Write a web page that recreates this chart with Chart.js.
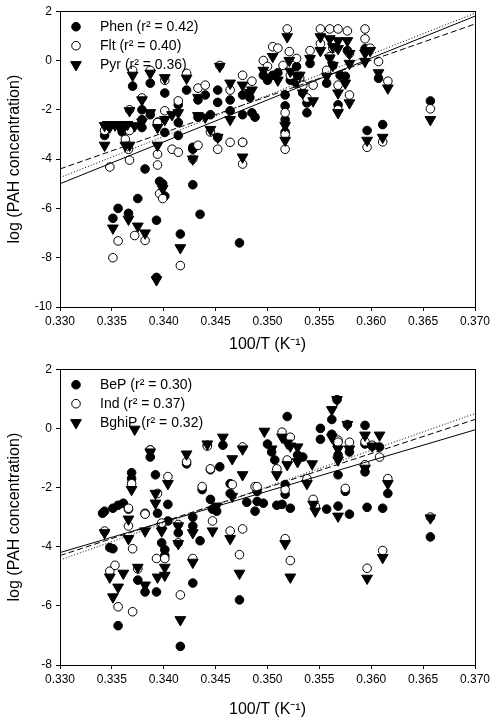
<!DOCTYPE html>
<html>
<head>
<meta charset="utf-8">
<script src="https://cdn.jsdelivr.net/npm/chart.js@4.4.0/dist/chart.umd.min.js"></script>
<style>
  body { margin: 0; background: #fff; }
  .wrap { position: absolute; left: 0; width: 501px; }
</style>
</head>
<body>
<div class="wrap" style="top:0;height:358px"><canvas id="top" width="501" height="358"></canvas></div>
<div class="wrap" style="top:358px;height:370px"><canvas id="bottom" width="501" height="370"></canvas></div>
<script>
// values: [100/T, log concentration]
const phen = [[0.3343,-3.04],[0.3351,-6.4],[0.3356,-6.0],[0.3360,-2.9],[0.3363,-2.7],[0.3366,-6.2],[0.3370,-1.04],[0.3375,-5.6],[0.3379,-2.0],[0.3379,-2.4],[0.3379,-2.72],[0.3382,-4.4],[0.3387,-0.92],[0.3387,-2.2],[0.3393,-6.48],[0.3393,-8.8],[0.3394,-2.5],[0.3396,-4.9],[0.3399,-5.0],[0.3401,-1.32],[0.3401,-2.92],[0.3401,-5.5],[0.3414,-1.8],[0.3414,-2.52],[0.3414,-3.04],[0.3416,-7.04],[0.3422,-1.2],[0.3428,-3.6],[0.3428,-5.04],[0.3428,-3.52],[0.3433,-1.6],[0.3433,-2.3],[0.3435,-6.24],[0.3440,-1.4],[0.3445,-2.2],[0.3452,-1.2],[0.3452,-1.7],[0.3452,-3.12],[0.3464,-1.6],[0.3464,-2.04],[0.3473,-7.4],[0.3476,-1.4],[0.3476,-2.2],[0.3476,-3.32],[0.3483,-1.5],[0.3485,-2.12],[0.3488,-2.3],[0.3496,-0.6],[0.3500,-0.8],[0.3505,-0.6],[0.3510,-0.5],[0.3517,-1.4],[0.3517,-1.84],[0.3517,-2.4],[0.3517,-2.9],[0.3522,-0.8],[0.3528,-0.24],[0.3528,-0.92],[0.3531,-0.8],[0.3534,-1.32],[0.3538,-1.72],[0.3538,-2.12],[0.3541,-0.12],[0.3557,-0.92],[0.3563,-0.2],[0.3568,-1.8],[0.3570,-0.6],[0.3577,0.4],[0.3575,-0.64],[0.3596,-2.84],[0.3594,0.48],[0.3607,-0.72],[0.3611,-2.6],[0.3657,-1.64]];
const flt = [[0.3343,-2.84],[0.3348,-4.32],[0.3351,-8.0],[0.3356,-7.32],[0.3360,-2.8],[0.3363,-3.2],[0.3366,-3.6],[0.3367,-2.0],[0.3367,-2.84],[0.3367,-4.04],[0.3370,-0.4],[0.3372,-7.1],[0.3379,-1.52],[0.3382,-7.3],[0.3387,-0.4],[0.3394,-2.52],[0.3394,-3.8],[0.3394,-4.24],[0.3396,-5.4],[0.3399,-5.6],[0.3401,-0.8],[0.3401,-2.04],[0.3408,-3.6],[0.3414,-1.64],[0.3414,-3.72],[0.3416,-8.32],[0.3422,-0.52],[0.3428,-4.0],[0.3433,-1.12],[0.3433,-3.44],[0.3440,-1.0],[0.3445,-2.9],[0.3454,-0.2],[0.3452,-3.6],[0.3464,-1.2],[0.3464,-3.32],[0.3476,-0.6],[0.3476,-3.32],[0.3476,-4.2],[0.3485,-0.84],[0.3496,0.0],[0.3500,-0.24],[0.3505,0.56],[0.3510,0.5],[0.3515,-0.2],[0.3517,-2.12],[0.3517,-3.0],[0.3517,-3.6],[0.3519,1.28],[0.3521,0.36],[0.3522,-0.6],[0.3528,0.08],[0.3531,-0.7],[0.3534,-1.0],[0.3538,-1.52],[0.3541,0.4],[0.3544,-1.0],[0.3551,1.28],[0.3551,0.68],[0.3557,-0.4],[0.3560,1.28],[0.3560,0.16],[0.3563,0.5],[0.3568,1.28],[0.3568,-1.0],[0.3568,-2.0],[0.3577,1.2],[0.3579,0.28],[0.3579,-1.4],[0.3594,1.28],[0.3594,0.88],[0.3596,-3.52],[0.3599,0.5],[0.3607,-0.04],[0.3611,-3.3],[0.3616,-0.84],[0.3657,-1.96]];
const pyr = [[0.3343,-2.64],[0.3343,-3.44],[0.3346,-2.6],[0.3348,-2.7],[0.3351,-6.8],[0.3353,-2.62],[0.3356,-2.6],[0.3358,-2.75],[0.3360,-2.8],[0.3363,-3.44],[0.3365,-2.6],[0.3366,-6.44],[0.3367,-2.04],[0.3367,-3.44],[0.3370,-0.6],[0.3372,-2.65],[0.3375,-6.72],[0.3379,-1.6],[0.3379,-2.5],[0.3382,-7.0],[0.3387,-0.52],[0.3387,-2.12],[0.3393,-8.9],[0.3394,-2.72],[0.3394,-3.44],[0.3399,-5.2],[0.3401,-2.4],[0.3401,-0.7],[0.3408,-2.2],[0.3414,-2.12],[0.3416,-7.6],[0.3422,-0.72],[0.3428,-4.0],[0.3433,-1.5],[0.3433,-2.24],[0.3440,-2.3],[0.3445,-2.8],[0.3454,-0.24],[0.3452,-3.12],[0.3464,-0.92],[0.3464,-2.4],[0.3476,-1.0],[0.3476,-3.92],[0.3483,-1.3],[0.3485,-1.2],[0.3496,-0.4],[0.3505,0.16],[0.3510,-0.8],[0.3517,-2.64],[0.3517,-3.24],[0.3519,0.96],[0.3521,0.0],[0.3522,-0.44],[0.3528,-0.6],[0.3531,-0.6],[0.3534,-1.32],[0.3541,0.08],[0.3544,-1.64],[0.3551,0.96],[0.3551,0.4],[0.3557,-0.64],[0.3560,0.88],[0.3560,0.1],[0.3563,0.56],[0.3563,-0.2],[0.3568,0.8],[0.3568,0.48],[0.3568,-1.32],[0.3568,-2.12],[0.3577,0.8],[0.3575,-0.92],[0.3579,0.28],[0.3579,-0.12],[0.3579,-1.72],[0.3594,0.3],[0.3594,-0.04],[0.3596,-3.24],[0.3599,0.4],[0.3607,-0.5],[0.3611,-3.12],[0.3616,-1.12],[0.3657,-2.4]];

const bep = [[0.3341,-2.87],[0.3343,-2.8],[0.3348,-4.03],[0.3351,-2.7],[0.3351,-4.07],[0.3356,-6.67],[0.3356,-2.6],[0.3361,-2.53],[0.3366,-2.73],[0.3369,-1.5],[0.3369,-1.7],[0.3375,-5.13],[0.3382,-2.87],[0.3382,-5.53],[0.3387,-0.73],[0.3387,-0.97],[0.3392,-1.57],[0.3393,-5.53],[0.3394,-2.87],[0.3398,-3.37],[0.3398,-3.87],[0.3401,-4.1],[0.3401,-4.3],[0.3404,-2.57],[0.3404,-3.13],[0.3414,-3.53],[0.3416,-7.37],[0.3422,-1.2],[0.3428,-5.23],[0.3428,-3.0],[0.3428,-3.3],[0.3435,-3.8],[0.3437,-2.07],[0.3442,-0.57],[0.3445,-1.4],[0.3445,-2.4],[0.3447,-2.73],[0.3451,-2.8],[0.3454,-1.3],[0.3457,-0.57],[0.3464,-1.87],[0.3464,-2.2],[0.3473,-5.8],[0.3480,-2.5],[0.3488,-2.8],[0.3490,-2.13],[0.3490,-2.47],[0.3496,-2.53],[0.3500,-0.53],[0.3504,-0.8],[0.3507,-1.07],[0.3509,-2.6],[0.3514,-2.57],[0.3517,-1.9],[0.3517,-2.23],[0.3519,0.4],[0.3519,-0.4],[0.3522,-2.7],[0.3529,-0.9],[0.3534,-0.97],[0.3551,0.0],[0.3551,-0.37],[0.3557,-2.73],[0.3562,0.3],[0.3562,-0.2],[0.3567,0.97],[0.3567,-0.5],[0.3568,-0.9],[0.3568,-1.57],[0.3568,-2.63],[0.3575,-2.13],[0.3577,0.13],[0.3579,-0.8],[0.3579,-2.9],[0.3594,0.1],[0.3594,-0.53],[0.3594,-1.47],[0.3596,-2.67],[0.3601,-0.6],[0.3608,-0.63],[0.3611,-2.7],[0.3616,-2.2],[0.3657,-3.67]];
const ind = [[0.3343,-3.47],[0.3348,-4.83],[0.3353,-4.63],[0.3356,-6.03],[0.3366,-2.7],[0.3366,-3.3],[0.3369,-1.87],[0.3370,-4.07],[0.3370,-6.2],[0.3375,-4.75],[0.3382,-2.9],[0.3387,-0.73],[0.3393,-4.4],[0.3394,-2.2],[0.3398,-3.2],[0.3401,-4.4],[0.3404,-1.63],[0.3414,-3.25],[0.3414,-3.87],[0.3416,-5.63],[0.3422,-1.13],[0.3428,-4.4],[0.3437,-1.97],[0.3442,-0.6],[0.3445,-1.37],[0.3447,-3.13],[0.3464,-3.47],[0.3466,-1.9],[0.3473,-4.27],[0.3476,-0.63],[0.3476,-3.4],[0.3488,-1.97],[0.3490,-1.97],[0.3509,-1.37],[0.3514,-0.13],[0.3517,-2.07],[0.3517,-3.73],[0.3519,-1.07],[0.3522,-0.3],[0.3522,-4.47],[0.3538,-1.7],[0.3544,-2.4],[0.3546,-2.63],[0.3568,-0.4],[0.3568,-0.47],[0.3575,-2.03],[0.3579,-0.47],[0.3594,-0.45],[0.3594,-1.23],[0.3596,-4.73],[0.3601,-0.57],[0.3608,-0.97],[0.3611,-4.13],[0.3616,-1.7],[0.3657,-3.0]];
const bghip = [[0.3343,-3.53],[0.3348,-5.03],[0.3351,-5.7],[0.3356,-5.37],[0.3361,-4.9],[0.3366,-3.07],[0.3366,-3.73],[0.3369,-2.07],[0.3372,-0.03],[0.3375,-4.7],[0.3382,-3.47],[0.3382,-5.3],[0.3387,-0.8],[0.3392,-2.2],[0.3392,-2.53],[0.3394,-5.03],[0.3398,-3.47],[0.3401,-4.7],[0.3401,-4.97],[0.3404,-1.87],[0.3414,-3.3],[0.3414,-3.9],[0.3416,-6.47],[0.3422,-0.87],[0.3428,-4.53],[0.3428,-3.53],[0.3442,-0.53],[0.3447,-3.47],[0.3451,-2.63],[0.3457,-0.3],[0.3464,-3.73],[0.3466,-1.03],[0.3466,-2.3],[0.3473,-4.9],[0.3476,-0.7],[0.3476,-1.57],[0.3497,-0.1],[0.3504,-0.7],[0.3509,-1.57],[0.3514,-0.3],[0.3517,-3.9],[0.3519,-0.5],[0.3519,-1.23],[0.3522,-5.03],[0.3522,-0.6],[0.3529,-0.63],[0.3529,-1.13],[0.3543,-1.2],[0.3538,-1.87],[0.3544,-2.57],[0.3546,-2.8],[0.3562,0.63],[0.3567,0.97],[0.3562,-0.3],[0.3568,-0.7],[0.3568,-1.07],[0.3568,-2.97],[0.3577,0.13],[0.3579,-0.7],[0.3594,-0.23],[0.3594,-1.35],[0.3596,-5.07],[0.3601,-0.6],[0.3608,-0.23],[0.3611,-4.37],[0.3616,-1.87],[0.3657,-3.03]];

// regression lines, ends at x = 0.330 and 0.370
const fitX = [0.330, 0.370];
const phenFit = [-5.0, 1.8];
const fltFit = [-4.75, 1.92];
const pyrFit = [-4.4, 1.48];
const bepFit = [-4.2, -0.05];
const indFit = [-4.45, 0.5];
const bghipFit = [-4.3, 0.3];

const topLabels = ['Phen (r² = 0.42)', 'Flt (r² = 0.40)', 'Pyr (r² = 0.36)'];
const bottomLabels = ['BeP (r² = 0.30)', 'Ind (r² = 0.37)', 'BghiP (r² = 0.32)'];

const FONT = '"Liberation Sans", Arial, sans-serif';

const toPoints = arr => arr.map(([x, y]) => ({x, y}));
const fitPoints = ys => fitX.map((x, i) => ({x, y: ys[i]}));

const marker = [
  {pointStyle: 'circle', pointRadius: 4.3, pointBackgroundColor: '#000', pointRotation: 0},
  {pointStyle: 'circle', pointRadius: 4.3, pointBackgroundColor: '#fff', pointRotation: 0},
  {pointStyle: 'triangle', pointRadius: 6.2, pointBackgroundColor: '#000', pointRotation: 180}
];
const dashes = [[], [1, 2], [6, 3]];

// box round the plot and the legend inside it
const framePlugin = {
  id: 'frame',
  afterDraw(chart) {
    const {ctx, chartArea: a} = chart;
    ctx.save();
    ctx.strokeStyle = '#000';
    ctx.lineWidth = 1;
    ctx.strokeRect(Math.round(a.left) + 0.5, Math.round(a.top) + 0.5, Math.round(a.right - a.left), Math.round(a.bottom - a.top));
    ctx.font = '14px ' + FONT;
    ctx.textBaseline = 'middle';
    chart.data.datasets.forEach((ds, i) => {
      if (!ds.inLegend) return;
      const y = a.top + 15.5 + i * 19;
      ctx.fillStyle = ds.pointBackgroundColor;
      ctx.strokeStyle = '#000';
      Chart.helpers.drawPoint(ctx, {
        pointStyle: ds.pointStyle, radius: ds.pointRadius,
        rotation: ds.pointRotation, borderWidth: 1
      }, a.left + 16, y);
      ctx.fillStyle = '#000';
      ctx.fillText(ds.label, a.left + 40, y);
    });
    ctx.restore();
  }
};

function makeChart(id, series, fits, labels, yMin, xHeight, xTitlePad, topPad) {
  const datasets = [];
  series.forEach((s, i) => {
    datasets.push(Object.assign({
      type: 'scatter',
      label: labels[i],
      inLegend: true,
      data: toPoints(s),
      pointBorderColor: '#000',
      pointBorderWidth: 1,
      pointHoverRadius: 4,
      order: 3 - i
    }, marker[i]));
  });
  fits.forEach((f, i) => {
    datasets.push({
      type: 'line',
      label: labels[i] + ' fit',
      data: fitPoints(f),
      borderColor: '#000',
      borderWidth: 1,
      borderDash: dashes[i],
      pointRadius: 0,
      fill: false,
      order: 0
    });
  });

  return new Chart(document.getElementById(id), {
    type: 'scatter',
    data: {datasets},
    options: {
      responsive: false,
      animation: false,
      devicePixelRatio: 1,
      layout: {padding: {left: 0, top: topPad, right: 26, bottom: 0}},
      plugins: {legend: {display: false}, tooltip: {enabled: false}},
      scales: {
        x: {
          type: 'linear', min: 0.33, max: 0.37,
          ticks: {stepSize: 0.005, color: '#000', font: {family: FONT, size: 12}, padding: 3,
                  autoSkip: false, maxRotation: 0, callback: v => v.toFixed(3)},
          grid: {drawOnChartArea: false, tickLength: 4, color: '#000'},
          border: {color: '#000'},
          title: {display: true, text: '100/T (K⁻¹)', color: '#000', font: {family: FONT, size: 16},
                  padding: {top: 0, bottom: xTitlePad}},
          afterFit: s => { s.height = xHeight; }
        },
        y: {
          min: yMin, max: 2,
          ticks: {stepSize: 2, color: '#000', font: {family: FONT, size: 12}, padding: 4,
                  callback: v => String(v)},
          grid: {drawOnChartArea: false, tickLength: 4, color: '#000'},
          border: {color: '#000'},
          title: {display: true, text: 'log (PAH concentration)', color: '#000', font: {family: FONT, size: 16},
                  padding: {top: 5, bottom: 0}},
          afterFit: s => { s.width = 60; }
        }
      }
    },
    plugins: [framePlugin]
  });
}

makeChart('top', [phen, flt, pyr], [phenFit, fltFit, pyrFit], topLabels, -10, 51, 4, 7);
makeChart('bottom', [bep, ind, bghip], [bepFit, indFit, bghipFit], bottomLabels, -8, 63, 9, 8);
</script>
</body>
</html>
